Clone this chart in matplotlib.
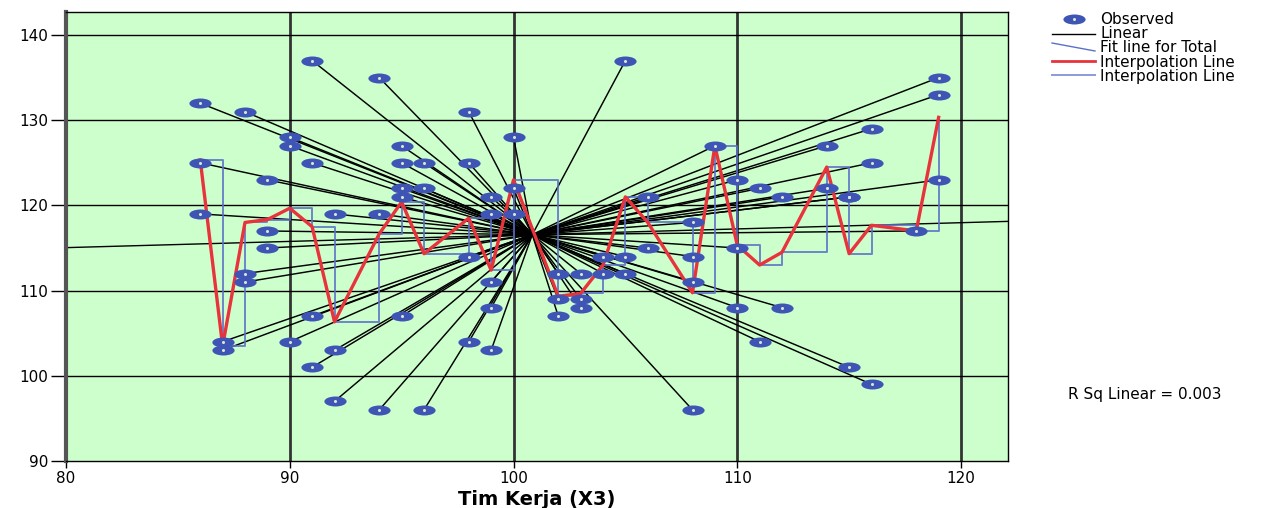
import numpy as np
import matplotlib.pyplot as plt
from matplotlib.path import Path
from matplotlib.lines import Line2D
from matplotlib.transforms import Affine2D

plt.rcParams['font.family'] = ['DejaVu Sans']

# observed points (Tim Kerja X3, Y)
x_obs = [86, 86, 86, 87, 87, 88, 88, 88, 89, 89, 89, 90, 90, 90,
         91, 91, 91, 91, 92, 92, 92, 94, 94, 94, 95, 95, 95, 95, 95,
         96, 96, 96, 98, 98, 98, 98, 99, 99, 99, 99, 99, 100, 100, 100,
         102, 102, 102, 103, 103, 103, 104, 104, 105, 105, 105, 106, 106,
         108, 108, 108, 108, 109, 110, 110, 110, 111, 111, 112, 112,
         114, 114, 115, 115, 115, 116, 116, 116, 118, 119, 119, 119]
y_obs = [132, 125, 119, 104, 103, 131, 112, 111, 123, 117, 115, 128, 127, 104,
         137, 125, 107, 101, 119, 103, 97, 135, 119, 96, 127, 125, 122, 121, 107,
         125, 122, 96, 131, 125, 114, 104, 121, 119, 111, 108, 103, 128, 122, 119,
         112, 109, 107, 112, 109, 108, 114, 112, 137, 114, 112, 121, 115,
         118, 114, 111, 96, 127, 123, 115, 108, 122, 104, 121, 108,
         127, 122, 121, 121, 101, 129, 125, 99, 117, 135, 133, 123]

x_ticks = [80, 90, 100, 110, 120]
y_ticks = [90, 100, 110, 120, 130, 140]

legend_labels = ['Observed', 'Linear', 'Fit line for Total',
                 'Interpolation Line', 'Interpolation Line']
r_sq_text = 'R Sq Linear = 0.003'

x = np.array(x_obs, dtype=float)
y = np.array(y_obs, dtype=float)

# mean per x value for the interpolation lines
ux = np.unique(x)
uy = np.array([y[x == v].mean() for v in ux])
cx, cy = x.mean(), y.mean()
slope, icpt = np.polyfit(x, y, 1)

W, H = 1274, 508
fig = plt.figure(figsize=(W / 100, H / 100), dpi=100)
ax = fig.add_axes([66 / W, 1 - 461 / H, (1008 - 66) / W, (461 - 12) / H])
ax.set_facecolor('#ccffcc')
ax.set_xlim(80, 80 + (1008 - 66) / 22.375)
ax.set_ylim(90, 140 + (35 - 12) / 8.52)

for v in x_ticks[1:]:
    ax.axvline(v, color='#333333', lw=2.0, zorder=1)
for v in y_ticks[1:]:
    ax.axhline(v, color='black', lw=1.0, zorder=1)

# spikes to the centroid
for xi, yi in zip(x, y):
    ax.plot([xi, cx], [yi, cy], color='black', lw=1.05, zorder=2)

# linear fit
xl = np.array(ax.get_xlim())
ax.plot(xl, slope * xl + icpt, color='black', lw=1.0, zorder=2)

# step interpolation and red interpolation
ax.step(ux, uy, where='post', color='#5b70c8', lw=1.4, alpha=0.85, zorder=3)
ax.plot(ux, uy, color='#e8333c', lw=2.4, zorder=4)

ell = Path.unit_circle().transformed(Affine2D().scale(1.0, 0.45))
ax.plot(x, y, ls='none', marker=ell, ms=16, mfc='#3f55b5', mec='#3f55b5',
        mew=0, zorder=5)
ax.plot(x, y, ls='none', marker='o', ms=2.2, mfc='#d8e8d0', mec='none', zorder=6)

ax.set_xticks(x_ticks)
ax.set_yticks(y_ticks)
ax.tick_params(labelsize=11, width=1, colors='black', pad=2)
ax.tick_params(axis='y', length=11)
ax.tick_params(axis='x', length=5)
for s in ax.spines.values():
    s.set_color('black')
    s.set_linewidth(1.0)
ax.spines['left'].set_linewidth(3)
ax.spines['left'].set_color('#555555')
ax.set_xlabel('Tim Kerja (X3)', fontsize=14, fontweight='bold', labelpad=3)

# legend drawn by hand
rows = [20, 34, 48, 62, 76]
for lab, r in zip(legend_labels, rows):
    fig.text(1100 / W, 1 - r / H, lab, fontsize=11, va='center', ha='left')
fig.add_artist(Line2D([1074 / W], [1 - 19 / H], marker=ell, ms=16,
                      mfc='#3f55b5', mew=0, ls='none'))
fig.add_artist(Line2D([1074 / W], [1 - 19 / H], marker='o', ms=2.2,
                      mfc='#d8e8d0', mec='none', ls='none'))
fig.add_artist(Line2D([1052 / W, 1095 / W], [1 - 34 / H, 1 - 34 / H],
                      color='black', lw=1.0))
fig.add_artist(Line2D([1052 / W, 1095 / W], [1 - 43 / H, 1 - 51 / H],
                      color='#5b70c8', lw=1.0))
fig.add_artist(Line2D([1052 / W, 1095 / W], [1 - 61 / H, 1 - 61 / H],
                      color='#e8333c', lw=2.0))
fig.add_artist(Line2D([1052 / W, 1095 / W], [1 - 75 / H, 1 - 75 / H],
                      color='#8c9ad8', lw=1.4))
fig.text(1068 / W, 1 - 395 / H, r_sq_text, fontsize=11, va='center', ha='left')

fig.savefig('out.png', dpi=100)
